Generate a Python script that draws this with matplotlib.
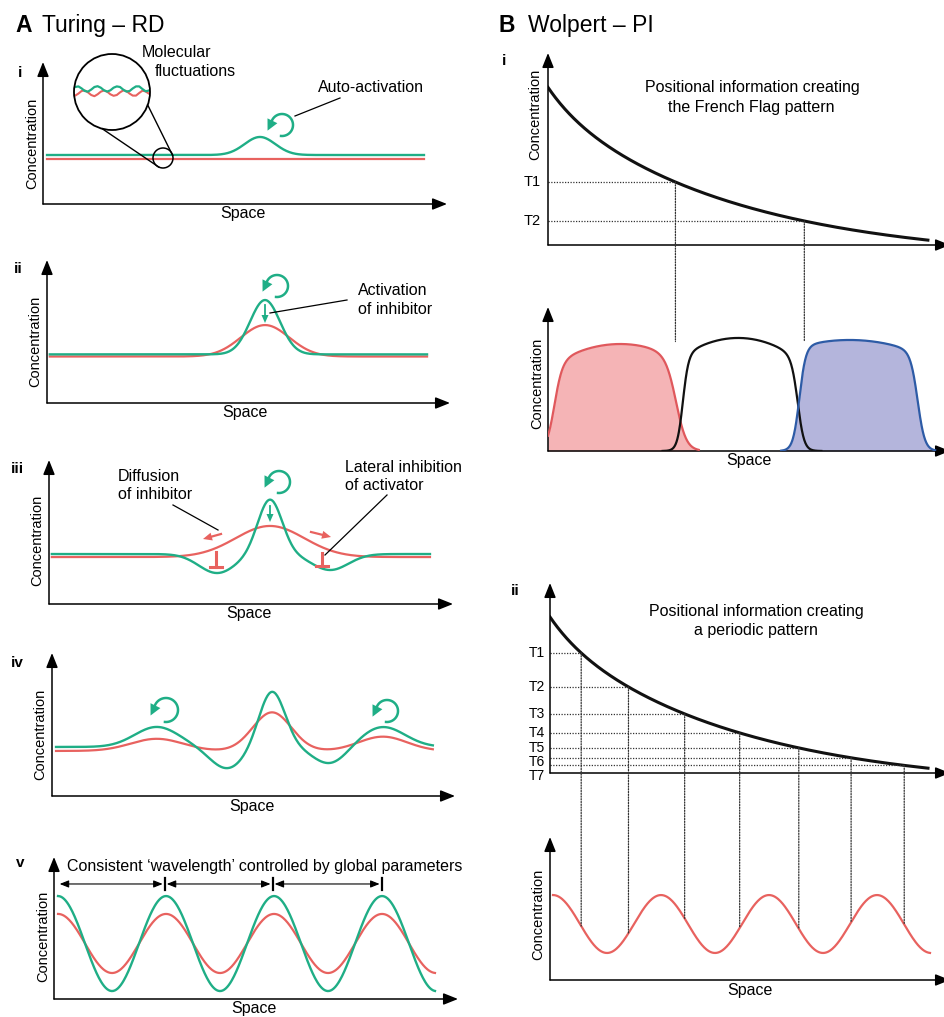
import numpy as np
import matplotlib
matplotlib.use('Agg')
import matplotlib.pyplot as plt
from matplotlib.patches import Circle, Polygon, ConnectionPatch

plt.rcParams['font.family'] = ['Liberation Sans', 'DejaVu Sans']

W, H = 945, 1017
GREEN = '#1fae86'
RED = '#e8625f'
DOT = (0, (1, 1.2))

# ---------------- data ----------------
# A: Turing reaction-diffusion, space runs 0-10, concentration 0-1
# every bump is (centre, amplitude, width)
turing_span = [(0.10, 9.43), (0.07, 9.43), (0.07, 9.43), (0.10, 9.45)]
activator_base = [0.345, 0.340, 0.347, 0.343]
inhibitor_base = [0.317, 0.325, 0.326, 0.315]
activator_bumps = [
    [(5.37, 0.127, 0.38)],
    [(5.41, 0.38, 0.37)],
    [(4.16, -0.132, 0.45), (5.47, 0.38, 0.30), (6.96, -0.111, 0.45)],
    [(2.60, 0.14, 0.55), (4.34, -0.15, 0.42), (5.46, 0.39, 0.32),
     (6.90, -0.12, 0.42), (8.21, 0.14, 0.55)],
]
inhibitor_bumps = [
    [],
    [(5.41, 0.22, 0.60)],
    [(5.47, 0.216, 0.85)],
    [(2.60, 0.085, 0.65), (5.46, 0.27, 0.48), (8.21, 0.10, 0.60)],
]

# molecular fluctuations seen through the lens (offsets)
lens_activator = [0, -2, -2.6, -0.6, 2, 2.6, 0.6, -2, -2.8, -1.3, 1.3, 2.6, 1.3, -1.3,
                  -2.6, -2, 0.6, 2.6, 2, -0.6, -2.6, -2.6, 0, 2.3, 1.6, -0.6]
lens_inhibitor = [1.3, 2.6, 0.6, -2, -2.6, -0.6, 2, 3.2, 1.3, -1.3, -2.6, -1.3, 1.3, 2.8,
                  2, -0.6, -2.6, -2, 0.6, 2.6, 2.6, 0, -2.3, -1.6, 0.6, 2]

# A v: stable periodic pattern
wave_peaks = [0.10, 2.75, 5.42, 8.12]
wave_span = (0.10, 9.43)
activator_levels = (0.725, 0.056)   # peak, trough
inhibitor_levels = (0.599, 0.183)

# B: morphogen gradient
gradient_start = 0.821
gradient_fast = (0.105, 0.75)      # amplitude, decay length
gradient_slow = (0.80, 4.75)
gradient_end = 9.45
flag_thresholds = [0.328, 0.125]
periodic_thresholds = [0.632, 0.453, 0.311, 0.211, 0.132, 0.080, 0.040]

# French flag bands
flag_spans = [(0.0, 3.75), (2.85, 6.8), (5.8, 9.63)]
flag_heights = [0.743, 0.785, 0.771]
flag_domes = [(1.8, 0.067), (4.73, 0.083), (7.5, 0.04)]
flag_rise = [(0.15, 0.10), (3.35, 0.07), (6.25, 0.08)]
flag_fall = [(3.2, 0.13), (6.22, 0.08), (9.2, 0.09)]
flag_fill = ['#f5b4b6', None, '#b4b5dc']
flag_edge = ['#e0585c', '#111111', '#2d5ba6']

# B ii: periodic read-out
periodic_peaks = [0.075, 2.75, 5.45, 8.175]
periodic_span = (0.075, 9.5)
periodic_levels = (0.594, 0.189)


# ---------------- helpers ----------------
def bumps(x, base, parts):
    y = np.full_like(x, base)
    for c, a, w in parts:
        y += a * np.exp(-0.5 * ((x - c) / w) ** 2)
    return y


def wave(x, peaks, levels):
    period = np.mean(np.diff(peaks))
    hi, lo = levels
    return (hi + lo) / 2 + (hi - lo) / 2 * np.cos(2 * np.pi * (x - peaks[0]) / period)


def gradient(x):
    return (gradient_start
            - gradient_fast[0] * (1 - np.exp(-x / gradient_fast[1]))
            - gradient_slow[0] * (1 - np.exp(-x / gradient_slow[1])))


def sig(z):
    return 1 / (1 + np.exp(-z))


fig = plt.figure(figsize=(W / 100, H / 100), dpi=100)

AX_ARROW = dict(arrowstyle='-|>,head_length=0.55,head_width=0.22', color='black',
                lw=1.1, mutation_scale=16, shrinkA=0, shrinkB=0)


def panel(x0, yb, xt, yt):
    ax = fig.add_axes([x0 / W, 1 - yb / H, (xt - x0) / W, (yb - yt) / H])
    ax.set_xlim(0, 10)
    ax.set_ylim(0, 1)
    ax.axis('off')
    for tip in [(1, 0), (0, 1)]:
        ax.annotate('', xy=tip, xytext=(0, 0), xycoords='axes fraction',
                    arrowprops=AX_ARROW, annotation_clip=False)
    return ax


# ---------------- A: Turing ----------------
turing_boxes = [(43, 204, 447, 62), (47, 403, 450, 260), (49, 604, 453, 460),
                (52, 796, 455, 653)]
for k, box in enumerate(turing_boxes):
    ax = panel(*box)
    x = np.linspace(*turing_span[k], 500)
    ax.plot(x, bumps(x, inhibitor_base[k], inhibitor_bumps[k]), color=RED, lw=1.6)
    ax.plot(x, bumps(x, activator_base[k], activator_bumps[k]), color=GREEN, lw=1.7)

axv = panel(54, 999, 458, 857)
x = np.linspace(*wave_span, 500)
axv.plot(x, wave(x, wave_peaks, inhibitor_levels), color=RED, lw=1.6)
axv.plot(x, wave(x, wave_peaks, activator_levels), color=GREEN, lw=1.7)
for a, b in zip(wave_peaks[:-1], wave_peaks[1:]):
    axv.annotate('', xy=(b - 0.06, 0.81), xytext=(a + 0.04, 0.81),
                 arrowprops=dict(arrowstyle='<|-|>,head_length=0.45,head_width=0.18',
                                 mutation_scale=12, lw=0.8, color='k',
                                 shrinkA=0, shrinkB=0),
                 annotation_clip=False)
for p in wave_peaks[1:]:
    axv.plot([p, p], [0.765, 0.855], color='k', lw=1.6, clip_on=False)

# ---------------- B: Wolpert ----------------
axb1 = panel(548, 245, 950, 53)
xg = np.linspace(0, gradient_end, 500)
yg = gradient(xg)
axb1.plot(xg, yg, color='#111111', lw=2.2)

axflag = panel(548, 451, 950, 307)
for k in range(3):
    xs = np.linspace(*flag_spans[k], 400)
    c, kk = flag_domes[k]
    ys = (flag_heights[k] * (1 - kk * (xs - c) ** 2)
          * sig((xs - flag_rise[k][0]) / flag_rise[k][1])
          * sig((flag_fall[k][0] - xs) / flag_fall[k][1]))
    if flag_fill[k]:
        axflag.fill_between(xs, 0, ys, color=flag_fill[k], lw=0, zorder=1)
    axflag.plot(xs, ys, color=flag_edge[k], lw=1.6, zorder=3)

for t in flag_thresholds:
    xt = np.interp(t, yg[::-1], xg[::-1])
    axb1.plot([0, xt], [t, t], color='#333333', lw=0.9, ls=DOT)
    fig.add_artist(ConnectionPatch(xyA=(xt, t), coordsA=axb1.transData,
                                   xyB=(xt, 0.76), coordsB=axflag.transData,
                                   color='#333333', lw=0.9, ls=DOT))
for i, t in enumerate(flag_thresholds):
    axb1.text(-0.18, t, f'T{i + 1}', ha='right', va='center', fontsize=10.5)

axb2 = panel(550, 773, 950, 583)
axb2.plot(xg, yg, color='#111111', lw=2.2)
axb3 = panel(550, 980, 950, 837)
xp = np.linspace(*periodic_span, 500)
axb3.plot(xp, wave(xp, periodic_peaks, periodic_levels), color=RED, lw=1.6)
label_y = 1.0
for i, t in enumerate(periodic_thresholds):
    xt = np.interp(t, yg[::-1], xg[::-1])
    axb2.plot([0, xt], [t, t], color='#333333', lw=0.9, ls=DOT)
    yb = wave(xt, periodic_peaks, periodic_levels)
    fig.add_artist(ConnectionPatch(xyA=(xt, t), coordsA=axb2.transData,
                                   xyB=(xt, yb), coordsB=axb3.transData,
                                   color='#333333', lw=0.9, ls=DOT))
    # keep stacked labels readable where thresholds crowd together
    label_y = min(t, label_y - 0.075)
    axb2.text(-0.12, label_y, f'T{i + 1}', ha='right', va='center', fontsize=10)

# ---------------- overlay: labels and schematic marks ----------------
ov = fig.add_axes([0, 0, 1, 1])
ov.set_xlim(0, W)
ov.set_ylim(H, 0)
ov.axis('off')


def txt(x, y, s, size=11.5, **kw):
    ov.text(x, y, s, fontsize=size, va='baseline', **kw)


def head(tip, d, length, width, color):
    tip = np.asarray(tip, float)
    d = np.asarray(d, float)
    d = d / np.hypot(*d)
    n = np.array([-d[1], d[0]])
    base = tip - d * length
    ov.add_patch(Polygon([tip, base + n * width / 2, base - n * width / 2],
                         closed=True, color=color, lw=0))


def arrow(tail, tip, color, lw=1.3, hl=8, hw=7):
    d = np.subtract(tip, tail).astype(float)
    base = np.asarray(tip, float) - d / np.hypot(*d) * (hl - 1)
    ov.plot([tail[0], base[0]], [tail[1], base[1]], color=color, lw=lw)
    head(tip, d, hl, hw, color)


def curl(cx, cy, r):
    phi = np.radians(np.linspace(95, -172, 80))
    xs = cx + r * np.cos(phi)
    ys = cy + r * np.sin(phi)
    ov.plot(xs, ys, color=GREEN, lw=1.8)
    d = np.array([np.sin(phi[-1]), -np.cos(phi[-1])]) + np.array([-0.35, 0])
    d = d / np.hypot(*d)
    head((xs[-1] + d[0] * 8, ys[-1] + d[1] * 8), d, 11, 11, GREEN)


# titles
txt(15, 32, 'A', 16.5, weight='bold')
txt(42, 32, 'Turing – RD', 16.5)
txt(499, 32, 'B', 16.5, weight='bold')
txt(528, 32, 'Wolpert – PI', 16.5)

# panel numerals
for x0, y0, s in [(20, 77, 'i'), (18, 273, 'ii'), (17, 473, 'iii'), (17, 667, 'iv'),
                  (20, 867, 'v'), (504, 65, 'i'), (515, 595, 'ii')]:
    txt(x0, y0, s, 11, weight='bold', ha='center')

# axis labels
for xc, yc in [(32, 143), (35, 341), (37, 540), (40, 734), (43, 936),
               (535, 114), (537, 383), (538, 914)]:
    ov.text(xc, yc, 'Concentration', rotation=90, ha='center', va='center',
            fontsize=10.5)
for xc, yb in [(243, 218), (245, 417), (249, 618), (252, 811), (254, 1013),
               (749, 465), (750, 995)]:
    txt(xc, yb, 'Space', 11.5, ha='center')

# lens with molecular fluctuations
lens = Circle((112, 92), 38, fill=False, ec='k', lw=1.3, zorder=4)
ov.add_patch(lens)
lx = np.linspace(112 - 40, 112 + 40, len(lens_activator))
l1, = ov.plot(lx, 93 + np.array(lens_inhibitor), color=RED, lw=1.5)
l2, = ov.plot(lx, 89 + np.array(lens_activator), color=GREEN, lw=1.6)
l1.set_clip_path(lens)
l2.set_clip_path(lens)
ov.add_patch(Circle((163, 158), 10, fill=False, ec='k', lw=1.1))
for a1, a2 in [(105, 115), (20, -15)]:
    p1 = (112 + 38 * np.cos(np.radians(a1)), 92 + 38 * np.sin(np.radians(a1)))
    p2 = (163 + 10 * np.cos(np.radians(a2)), 158 + 10 * np.sin(np.radians(a2)))
    ov.plot([p1[0], p2[0]], [p1[1], p2[1]], color='k', lw=1.0)
txt(142, 57, 'Molecular')
txt(155, 76, 'fluctuations')

# auto-activation
curl(282, 125, 11)
ov.plot([295, 340], [116, 98], color='k', lw=0.9)
txt(318, 92, 'Auto-activation')

# activation of inhibitor
curl(277, 286, 11)
arrow((265, 305), (265, 323), GREEN)
ov.plot([270, 347], [313, 300], color='k', lw=0.9)
txt(358, 295, 'Activation')
txt(358, 314, 'of inhibitor')

# diffusion / lateral inhibition
curl(279, 482, 11)
arrow((270, 506), (270, 522), GREEN)
arrow((221, 534), (203, 539), RED, lw=1.6, hl=9, hw=8)
arrow((311, 532), (331, 537), RED, lw=1.6, hl=9, hw=8)
for xb, y1, y2 in [(216, 552, 567), (322, 553, 566)]:
    ov.plot([xb, xb], [y1, y2], color=RED, lw=2.2)
    ov.plot([xb - 6, xb + 6], [y2, y2], color=RED, lw=2.2)
ov.plot([173, 218], [505, 530], color='k', lw=0.9)
ov.plot([387, 325], [495, 555], color='k', lw=0.9)
txt(118, 481, 'Diffusion')
txt(118, 499, 'of inhibitor')
txt(345, 472, 'Lateral inhibition')
txt(345, 490, 'of activator')

# iv
curl(166, 710, 12)
curl(387, 711, 11)

# v
txt(265, 871, 'Consistent ‘wavelength’ controlled by global parameters', ha='center')

# B texts
txt(752, 92, 'Positional information creating', ha='center')
txt(751, 112, 'the French Flag pattern', ha='center')
txt(756, 616, 'Positional information creating', ha='center')
txt(756, 635, 'a periodic pattern', ha='center')

fig.savefig('out.png', dpi=100)
